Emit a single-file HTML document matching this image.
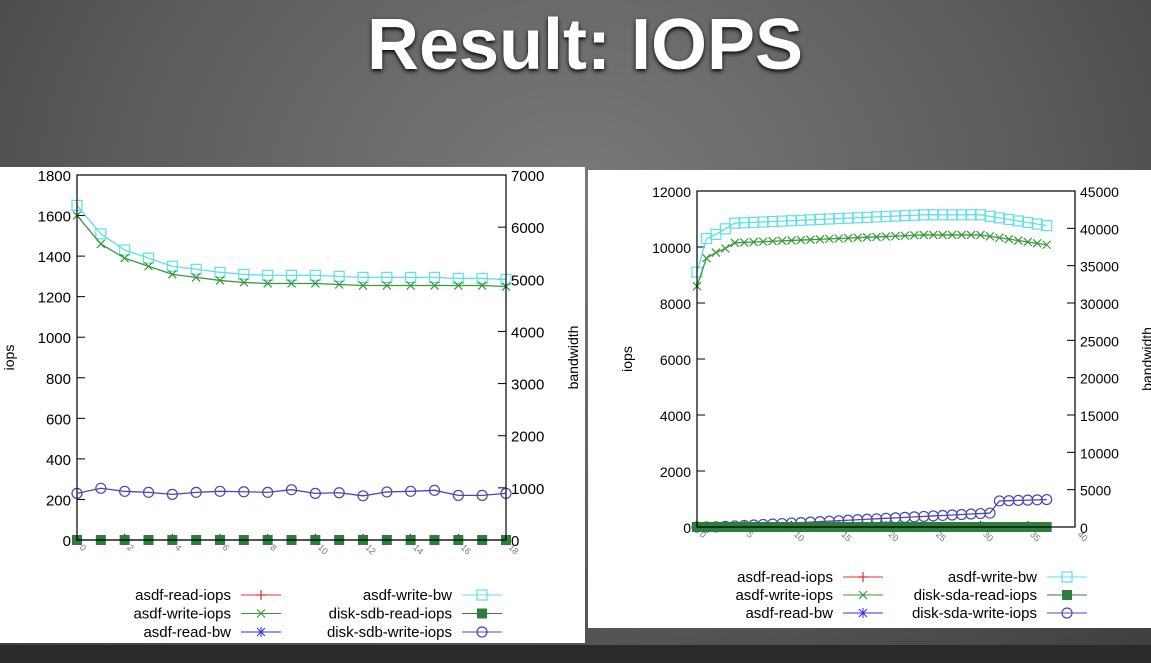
<!DOCTYPE html>
<html><head><style>
body{margin:0;width:1151px;height:663px;overflow:hidden;background:radial-gradient(ellipse at 50% 30%,#7a7a7a 0%,#5c5c5c 55%,#3e3e3e 100%);font-family:"Liberation Sans",sans-serif;position:relative}
.title{position:absolute;left:0;width:1170px;top:4px;text-align:center;color:#fff;font-weight:bold;font-size:72px;text-shadow:0 2px 4px #000}
.bot{position:absolute;left:0;top:645px;width:1151px;height:18px;background:#2a2a2a}
svg{position:absolute;left:0;top:0}
</style></head><body>
<div class="title">Result: IOPS</div>
<div class="bot"></div>
<svg id="s" width="1151" height="663" font-family="Liberation Sans, sans-serif"></svg>
<script>
const s=document.getElementById('s');let h='';
function pl(pts,c){return `<polyline points="${pts.map(p=>p.join(',')).join(' ')}" fill="none" stroke="${c}" stroke-width="1.3"/>`;}
function mk(t,x,y,c){
 if(t=='x')return `<path d="M${x-4},${y-4}L${x+4},${y+4}M${x-4},${y+4}L${x+4},${y-4}" stroke="${c}" stroke-width="1.2"/>`;
 if(t=='sq')return `<rect x="${x-5}" y="${y-5}" width="10" height="10" fill="none" stroke="${c}" stroke-width="1.2"/>`;
 if(t=='fs')return `<rect x="${x-5}" y="${y-5}" width="10" height="10" fill="${c}"/>`;
 if(t=='o')return `<circle cx="${x}" cy="${y}" r="5" fill="none" stroke="${c}" stroke-width="1.2"/>`;
 if(t=='+')return `<path d="M${x-5},${y}H${x+5}M${x},${y-5}V${y+5}" stroke="${c}" stroke-width="1.2"/>`;
 if(t=='*')return `<path d="M${x-5},${y}H${x+5}M${x},${y-5}V${y+5}M${x-4},${y-4}L${x+4},${y+4}M${x-4},${y+4}L${x+4},${y-4}" stroke="${c}" stroke-width="1"/>`;
}
function series(d,fx,fy,c,t){const p=d.map((v,i)=>[fx(i),fy(v)]);let r=pl(p,c);p.forEach(q=>r+=mk(t,q[0],q[1],c));return r;}
function chart(o){
 const {px,py,pw,ph,L,R,T,B,ymax,ystep,r2max,r2step,xmax,xstep,fs,lab2}=o;
 h+=`<rect x="${px}" y="${py}" width="${pw}" height="${ph}" fill="#fff"/>`;
 const fx=i=>L+(R-L)*i/xmax, fy=v=>B-(B-T)*v/ymax;
 for(let v=0;v<=ymax;v+=ystep){const y=fy(v);h+=`<line x1="${L}" x2="${L+8}" y1="${y}" y2="${y}" stroke="#000"/><text x="${L-6}" y="${y+6}" text-anchor="end" font-size="${fs}">${v}</text>`;}
 for(let v=0;v<=r2max;v+=r2step){const y=B-(B-T)*v/r2max;h+=`<line x1="${R-8}" x2="${R}" y1="${y}" y2="${y}" stroke="#000"/><text x="${R+5}" y="${y+6}" font-size="${fs}">${v}</text>`;}
 for(let v=0;v<=xmax;v+=xstep){const x=fx(v);h+=`<line x1="${x}" x2="${x}" y1="${B}" y2="${B-6}" stroke="#000"/><text transform="translate(${x+2},${B+8}) rotate(45)" font-size="9" fill="#777">${v}</text>`;}
 h+=`<text transform="translate(${o.ylx},${(T+B)/2}) rotate(-90)" text-anchor="middle" font-size="14">iops</text>`;
 h+=`<text transform="translate(${o.y2x},${(T+B)/2}) rotate(-90)" text-anchor="middle" font-size="14">bandwidth</text>`;
 const n=o.n;const z=Array(n).fill(0);
 h+=series(o.wbw,fx,fy,'#5ee0e8','sq');
 h+=series(o.wi,fx,fy,'#3a9a3a','x');
 h+=series(o.sw,fx,fy,'#4848b0','o');
 h+=series(z,fx,fy,'#2e7d3e','fs');
 h+=`<rect x="${L}" y="${T}" width="${R-L}" height="${B-T}" fill="none" stroke="#000" stroke-width="1.2"/>`;
 const lx=o.lx,ly=o.ly;const a=[['asdf-read-iops','#e03030','+'],['asdf-write-iops','#3a9a3a','x'],['asdf-read-bw','#3030e0','*']];
 const b=[['asdf-write-bw','#5ee0e8','sq'],[lab2+'-read-iops','#2e7d3e','fs'],[lab2+'-write-iops','#4848b0','o']];
 a.forEach((e,i)=>{const y=ly+i*o.sp;h+=`<text x="${lx}" y="${y+5}" text-anchor="end" font-size="15">${e[0]}</text><line x1="${lx+10}" x2="${lx+50}" y1="${y}" y2="${y}" stroke="${e[1]}"/>`+mk(e[2],lx+30,y,e[1]);});
 b.forEach((e,i)=>{const y=ly+i*o.sp;const x2=o.lx2;h+=`<text x="${x2}" y="${y+5}" text-anchor="end" font-size="15">${e[0]}</text><line x1="${x2+10}" x2="${x2+50}" y1="${y}" y2="${y}" stroke="${e[1]}"/>`+mk(e[2],x2+30,y,e[1]);});
}
chart({px:0,py:167,pw:585,ph:476,L:77,R:506,T:175,B:540,ymax:1800,ystep:200,r2max:7000,r2step:1000,xmax:18,xstep:2,fs:15,lab2:'disk-sdb',ylx:14,y2x:578,n:19,lx:231,lx2:452,ly:595,sp:18.5,
 wi:[1600,1460,1390,1350,1310,1295,1280,1270,1265,1265,1265,1260,1255,1255,1255,1255,1255,1255,1250],
 wbw:[1650,1510,1430,1390,1350,1335,1320,1310,1305,1305,1305,1300,1295,1295,1295,1295,1290,1290,1285],
 sw:[230,255,240,235,225,235,240,238,235,248,230,233,218,237,240,245,220,220,230]});
const wi2=[],wb2=[],sw2=[];
for(let i=0;i<38;i++){
 let w=i==0?8600:i==1?9600:i==2?9800:i==3?9950:10150+Math.min(i-4,20)*14-(i>30?(i-30)*50:0);wi2.push(w);
 let b=i==0?9100:i==1?10300:i==2?10450:i==3?10650:10850+Math.min(i-4,20)*15-(i>30?(i-30)*55:0);wb2.push(b);
 sw2.push(i<32?Math.max(0,i*17-30):930+(i-32)*10);
}
chart({px:588,py:170,pw:563,ph:458,L:697,R:1075,T:191,B:527,ymax:12000,ystep:2000,r2max:45000,r2step:5000,xmax:40,xstep:5,fs:14,lab2:'disk-sda',ylx:632,y2x:1152,n:38,lx:833,lx2:1037,ly:577,sp:18,wi:wi2,wbw:wb2,sw:sw2});
s.innerHTML=h;
</script>
</body></html>
